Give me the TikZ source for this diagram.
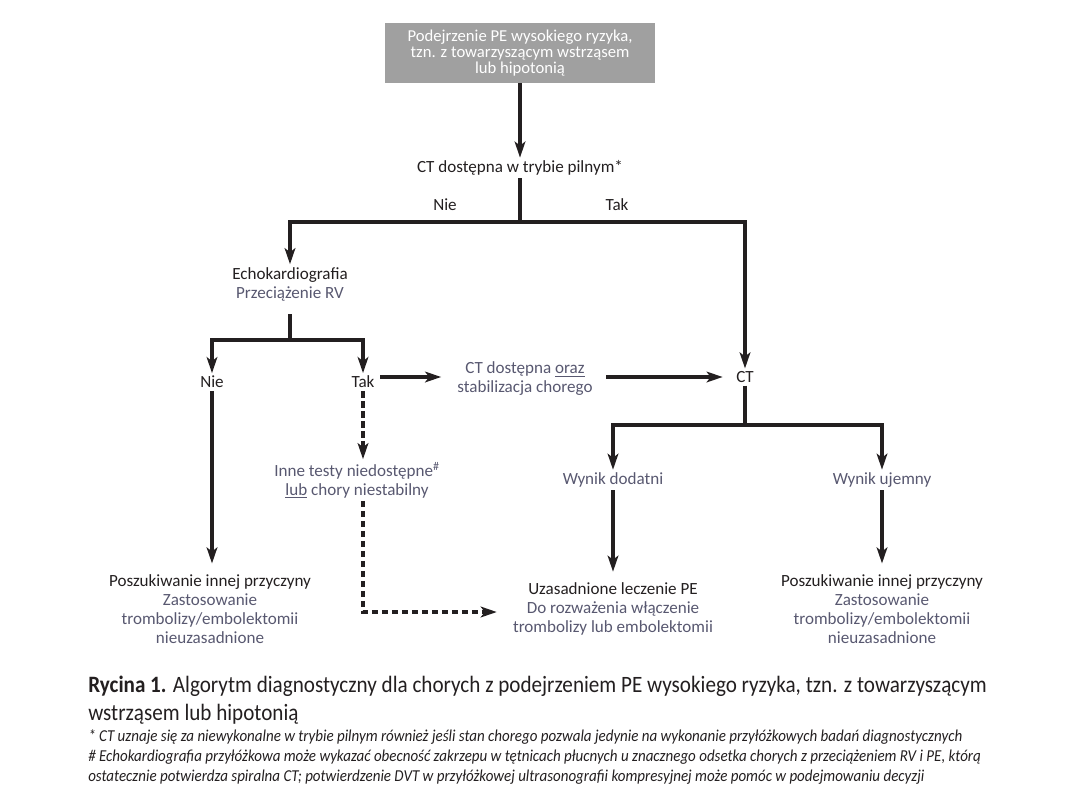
\documentclass[tikz,border=0pt]{standalone}
\usepackage{fontspec}
\setmainfont{Carlito}
\newfontfamily\capfont[FakeStretch=0.9]{Carlito}
\usetikzlibrary{arrows.meta}
\definecolor{ink}{RGB}{35,31,32}
\definecolor{subink}{RGB}{88,88,112}
\definecolor{boxgray}{RGB}{160,160,160}

\begin{document}
\begin{tikzpicture}[x=0.75pt, y=-0.75pt, every node/.style={align=center, text=ink, font=\fontsize{12.8}{14.3}\selectfont, inner sep=2pt}, flow/.style={line width=2.6pt, draw=ink}, >={Stealth[length=12pt,width=8pt,inset=3pt]}]
        \useasboundingbox (0,0) rectangle (1080,810);
        \node[fill=boxgray, text=white, minimum width=202.5pt, minimum height=45pt, font=\fontsize{12.5}{12}\selectfont] (susp) at (520,53) {Podejrzenie PE wysokiego ryzyka,\\ tzn. z towarzyszącym wstrząsem\\ lub hipotonią};
        \node (ctq) at (520,168) {CT dostępna w trybie pilnym*};
        \node (no1) at (445,205) {Nie};
        \node (yes1) at (617,205) {Tak};
        \node (echo) at (290,284) {Echokardiografia\\ \textcolor{subink}{Przeciążenie RV}};
        \node (no2) at (212,382) {Nie};
        \node (yes2) at (363,382) {Tak};
        \node (stab) at (525,379) {\textcolor{subink}{CT dostępna \underline{oraz}}\\ \textcolor{subink}{stabilizacja chorego}};
        \node (ct) at (745,377) {CT};
        \node (other) at (357,480) {\textcolor{subink}{Inne testy niedostępne\textsuperscript{\#}}\\ \textcolor{subink}{\underline{lub} chory niestabilny}};
        \node (pos) at (613,480) {\textcolor{subink}{Wynik dodatni}};
        \node (neg) at (882,480) {\textcolor{subink}{Wynik ujemny}};
        \node (look1) at (210,609) {Poszukiwanie innej przyczyny\\ \textcolor{subink}{Zastosowanie}\\ \textcolor{subink}{trombolizy/embolektomii}\\ \textcolor{subink}{nieuzasadnione}};
        \node (treat) at (613,609) {Uzasadnione leczenie PE\\ \textcolor{subink}{Do rozważenia włączenie}\\ \textcolor{subink}{trombolizy lub embolektomii}};
        \node (look2) at (882,609) {Poszukiwanie innej przyczyny\\ \textcolor{subink}{Zastosowanie}\\ \textcolor{subink}{trombolizy/embolektomii}\\ \textcolor{subink}{nieuzasadnione}};
        \coordinate (split1) at (520,222);
        \coordinate (split2) at (290,340);
        \coordinate (split3) at (745,425);
        \coordinate (bend) at (363,612);
        % first question
        \draw[flow, ->] (susp) -- (ctq);
        \draw[flow] (ctq) -- (split1);
        \draw[flow, ->] (split1) -| (echo);
        \draw[flow, ->] (split1) -| (ct);
        % echo branch
        \draw[flow, shorten <=8pt] (echo) -- (split2);
        \draw[flow, ->] (split2) -| (no2);
        \draw[flow, ->] (split2) -| (yes2);
        \draw[flow, ->, shorten <=2pt, shorten >=10pt] (yes2.east |- ct.west) -- (stab.west |- ct.west);
        \draw[flow, ->, shorten <=8pt, shorten >=8pt] (stab.east |- ct.west) -- (ct.west);
        \draw[flow, ->, shorten >=6pt] (no2) -- (no2 |- look1.north);
        \draw[flow, ->, dash pattern=on 5pt off 2.5pt] (yes2) -- (yes2 |- other.north);
        \draw[flow, ->, dash pattern=on 5pt off 2.5pt, shorten >=10pt] (yes2 |- other.south) -- (bend) -- (treat.west |- bend);
        % CT branch
        \draw[flow] (ct) -- (split3);
        \draw[flow, ->] (split3) -| (pos);
        \draw[flow, ->] (split3) -| (neg);
        \draw[flow, ->, shorten >=6pt] (pos) -- (treat);
        \draw[flow, ->, shorten >=6pt] (neg) -- (look2);
        % caption
        \node[anchor=north west, align=left, inner sep=0pt, font=\capfont\fontsize{17.6}{20.5}\selectfont] (cap) at (88,676) {\textbf{Rycina 1.} Algorytm diagnostyczny dla chorych z podejrzeniem PE wysokiego ryzyka, tzn. z towarzyszącym\\ wstrząsem lub hipotonią};
        \node[anchor=north west, align=left, inner sep=0pt, font=\capfont\itshape\fontsize{12.5}{15}\selectfont] (notes) at (88,729) {* CT uznaje się za niewykonalne w trybie pilnym również jeśli stan chorego pozwala jedynie na wykonanie przyłóżkowych badań diagnostycznych\\ \# Echokardiografia przyłóżkowa może wykazać obecność zakrzepu w tętnicach płucnych u znacznego odsetka chorych z przeciążeniem RV i PE, którą\\ ostatecznie potwierdza spiralna CT; potwierdzenie DVT w przyłóżkowej ultrasonografii kompresyjnej może pomóc w podejmowaniu decyzji};
    \end{tikzpicture}
\end{document}
